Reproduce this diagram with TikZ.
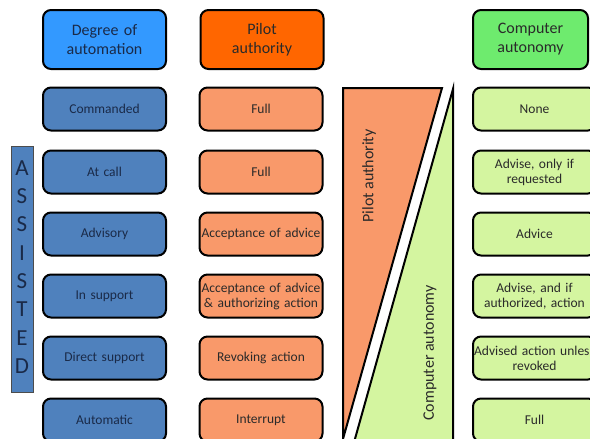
\documentclass[tikz,border=0pt]{standalone}
\usepackage{fontspec}
\setmainfont{Carlito}
\definecolor{hdrblue}{HTML}{3399FF}
\definecolor{hdrorange}{HTML}{FF6600}
\definecolor{hdrgreen}{HTML}{6EEB6E}
\definecolor{rowblue}{HTML}{4F81BD}
\definecolor{roworange}{HTML}{F9996A}
\definecolor{rowgreen}{HTML}{D4F5A0}
\definecolor{navytext}{HTML}{1A2A48}
\definecolor{darktext}{HTML}{2A2A2A}
\tikzset{
  box/.style={draw=black, line width=2pt, rounded corners=8pt, minimum width=123pt, minimum height=43pt, inner sep=2pt, align=center, font=\fontsize{13.5}{15}\selectfont, text width=119pt},
  hdr/.style={box, minimum height=59pt, font=\fontsize{16}{19}\selectfont},
  bluebox/.style={box, fill=rowblue, text=navytext},
  orangebox/.style={box, fill=roworange, text=darktext},
  greenbox/.style={box, fill=rowgreen, text=darktext},
  wedgetext/.style={rotate=90, font=\fontsize{16}{19}\selectfont, text=darktext},
}
\begin{document}
\begin{tikzpicture}[x=1pt,y=-1pt]
\useasboundingbox (0,0) rectangle (590,439);
\fill[white] (0,0) rectangle (590,439);
\clip (0,0) rectangle (590,439);
% headers
\node[hdr, fill=hdrblue, text=navytext] (h1) at (104.5,39.5) {Degree of\\automation};
\node[hdr, fill=hdrorange, text=darktext] (h2) at (262,39.5) {Pilot\\authority};
\node[hdr, fill=hdrgreen, text=darktext, minimum width=115pt, text width=111pt] (h3) at (530.5,39.5) {Computer\\autonomy};
% rows
\foreach \i/\y/\a/\b/\c in {
  1/109/Commanded/Full/None,
  2/172/At call/Full/{Advise, only if\\requested},
  3/234/Advisory/Acceptance of advice/Advice,
  4/296/In support/{Acceptance of advice\\\& authorizing action}/{Advise, and if\\authorized, action},
  5/358/Direct support/Revoking action/{\makebox[115pt][c]{Advised action unless}\\revoked},
  6/420/Automatic/Interrupt/Full}{
  \node[bluebox] (a\i) at (104.5,\y) {\a};
  \node[orangebox] (p\i) at (261,\y) {\b};
  \node[greenbox] (c\i) at (534.5,\y) {\c};
}
% assisted bar
\node[draw=black!70, line width=0.6pt, fill=rowblue, minimum width=22pt, minimum height=246pt, inner sep=0pt] (asst) at (22,269) {};
\node[font=\fontsize{23}{28.3}\selectfont, text=navytext, align=center, inner sep=0pt] (asstxt) at (22,267) {A\\S\\S\\I\\S\\T\\E\\D};
% wedges
\filldraw[fill=roworange, draw=black, line width=2pt] (343,88) -- (442,88) -- (341,446) -- (343,446) -- cycle;
\filldraw[fill=rowgreen, draw=black, line width=2pt] (453,89) -- (453,446) -- (353,446) -- cycle;
\node[wedgetext] (pa) at (369,176) {Pilot authority};
\node[wedgetext] (ca) at (430,353) {Computer autonomy};
\end{tikzpicture}
\end{document}
